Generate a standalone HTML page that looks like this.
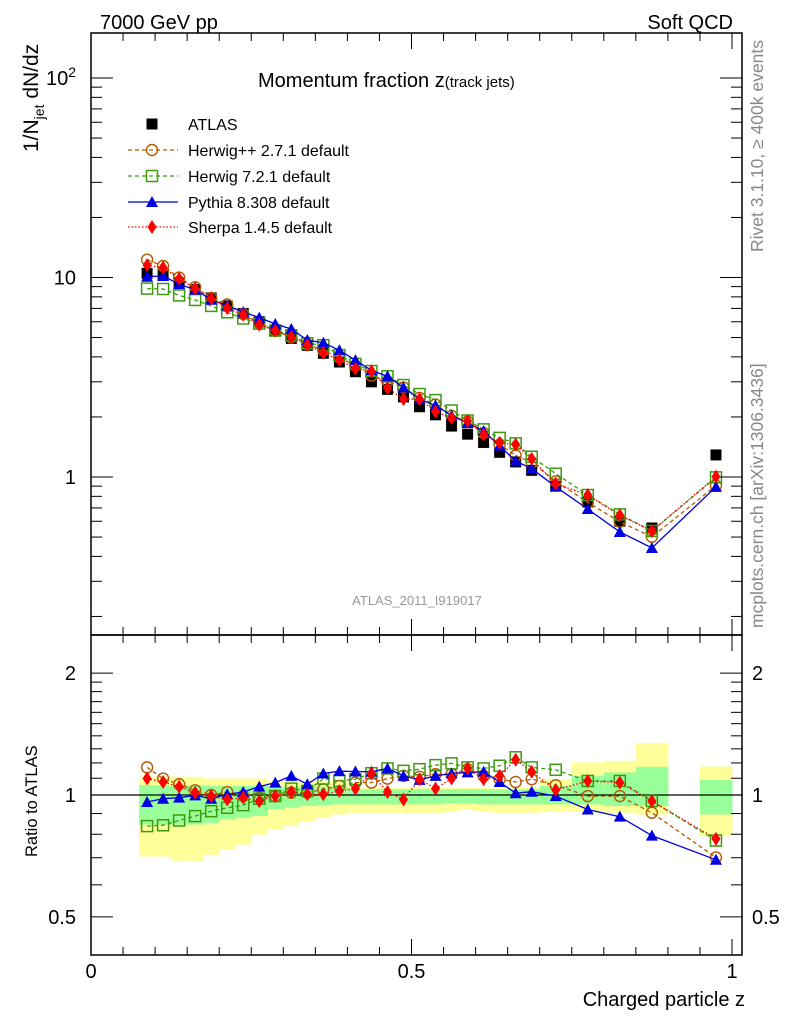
<!DOCTYPE html>
<html><head><meta charset="utf-8"><style>
body{margin:0;background:#fff;}
svg{display:block;font-family:"Liberation Sans",sans-serif;}
</style></head><body>
<svg id="chart" width="786" height="1024" viewBox="0 0 786 1024" xmlns="http://www.w3.org/2000/svg">
<g id="bands"></g>
<g id="series"></g>
<g id="axes"></g>
<text x="100" y="29" font-size="20">7000 GeV pp</text>
<text x="733" y="29" font-size="20" text-anchor="end">Soft QCD</text>
<text x="258" y="87" font-size="20">Momentum fraction <tspan>z</tspan><tspan font-size="15">(track jets)</tspan></text>
<text x="417" y="605" font-size="13" fill="#999" text-anchor="middle">ATLAS_2011_I919017</text>
<text transform="translate(38,152) rotate(-90)" font-size="21">1/N<tspan font-size="14" dy="6">jet</tspan><tspan dy="-6"> dN/dz</tspan></text>
<text transform="translate(37,857) rotate(-90)" font-size="16.5">Ratio to ATLAS</text>
<text x="745" y="1006" font-size="20" text-anchor="end">Charged particle z</text>
<text transform="translate(763,252) rotate(-90)" font-size="17.5" fill="#888">Rivet 3.1.10, ≥ 400k events</text>
<text transform="translate(763,628) rotate(-90)" font-size="17.5" fill="#888">mcplots.cern.ch [arXiv:1306.3436]</text>
<g id="legend"></g>
</svg>
<script>
const binLo=[0.075,0.1,0.125,0.15,0.175,0.2,0.225,0.25,0.275,0.3,0.325,0.35,0.375,0.4,0.425,0.45,0.475,0.5,0.525,0.55,0.575,0.6,0.625,0.65,0.675,0.7,0.75,0.8,0.85,0.95];
const binHi=[0.1,0.125,0.15,0.175,0.2,0.225,0.25,0.275,0.3,0.325,0.35,0.375,0.4,0.425,0.45,0.475,0.5,0.525,0.55,0.575,0.6,0.625,0.65,0.675,0.7,0.75,0.8,0.85,0.9,1.0];
const atlas=[10.5,10.4,9.4,8.7,7.9,7.2,6.6,6.0,5.45,4.95,4.57,4.17,3.77,3.37,3.0,2.75,2.52,2.25,2.05,1.8,1.64,1.49,1.33,1.19,1.08,0.9,0.75,0.6,0.555,1.29];
const rHerwigPP=[1.17,1.098,1.063,1.027,1.0,1.017,0.994,0.985,0.994,1.013,1.013,1.033,1.053,1.073,1.073,1.098,1.115,1.109,1.126,1.126,1.158,1.115,1.094,1.077,1.094,1.057,0.994,0.994,0.904,0.701];
const rHerwig7=[0.838,0.842,0.865,0.887,0.912,0.93,0.944,0.979,0.994,1.037,1.023,1.098,1.083,1.094,1.132,1.163,1.147,1.158,1.185,1.197,1.17,1.163,1.181,1.239,1.17,1.154,1.083,1.083,0.966,0.772];
const rPythia=[0.961,0.979,0.985,0.998,0.979,1.004,1.017,1.049,1.073,1.115,1.063,1.13,1.145,1.143,1.141,1.163,1.115,1.09,1.115,1.13,1.137,1.141,1.077,1.01,1.019,0.994,0.921,0.884,0.794,0.692];
const rSherpa=[1.098,1.077,1.049,1.013,0.994,0.975,0.985,0.966,0.994,1.017,1.004,1.004,1.023,1.037,1.13,1.017,0.975,1.094,1.037,1.098,1.163,1.094,1.115,1.222,1.141,1.029,1.083,1.073,0.966,0.779];
const yelHi=[1.109,1.109,1.109,1.109,1.098,1.098,1.098,1.098,1.083,1.083,1.083,1.083,1.083,1.043,1.043,1.043,1.043,1.043,1.043,1.043,1.043,1.043,1.043,1.043,1.043,1.094,1.203,1.215,1.345,1.176];
const yelLo=[0.705,0.705,0.688,0.688,0.712,0.733,0.754,0.798,0.822,0.838,0.862,0.878,0.895,0.904,0.904,0.904,0.904,0.904,0.904,0.912,0.921,0.912,0.904,0.904,0.904,0.912,0.912,0.904,0.895,0.794];
const grnHi=[1.057,1.057,1.057,1.057,1.053,1.053,1.053,1.053,1.049,1.049,1.049,1.049,1.049,1.033,1.033,1.033,1.033,1.033,1.033,1.033,1.033,1.033,1.033,1.033,1.033,1.053,1.115,1.137,1.174,1.090];
const grnLo=[0.845,0.845,0.845,0.845,0.853,0.870,0.878,0.887,0.921,0.930,0.939,0.944,0.948,0.948,0.948,0.948,0.948,0.948,0.948,0.953,0.953,0.948,0.948,0.948,0.948,0.948,0.948,0.939,0.939,0.895];
const mainTicks=["1","10","10²"];
const ratioTicks=["0.5","1","2"];
const xTickLabels=["0","0.5","1"];

const NS="http://www.w3.org/2000/svg";
const X0=91,X1=742,MT=33,MB=635,RB=955;
const xs=z=>X0+641*z;
const ym=v=>477-199.5*Math.log10(v);
const yr=v=>795-405*Math.log10(v);
function el(tag,attrs,parent){const e=document.createElementNS(NS,tag);for(const k in attrs)e.setAttribute(k,attrs[k]);parent.appendChild(e);return e;}
const bands=document.getElementById('bands'),series=document.getElementById('series'),axes=document.getElementById('axes'),legend=document.getElementById('legend');

for(let i=0;i<binLo.length;i++){
  const a=el('rect',{x:xs(binLo[i]),y:yr(yelHi[i]),width:xs(binHi[i])-xs(binLo[i])+0.5,height:yr(yelLo[i])-yr(yelHi[i]),fill:'#ffff99'},bands);
  
  
}
for(let i=0;i<binLo.length;i++){
  const a=el('rect',{x:xs(binLo[i]),y:yr(grnHi[i]),width:xs(binHi[i])-xs(binLo[i])+0.5,height:yr(grnLo[i])-yr(grnHi[i]),fill:'#99ff99'},bands);
  
  
}
const unity=el('line',{x1:X0,x2:X1,y1:yr(1),y2:yr(1),stroke:'#000','stroke-width':1.2},bands);



function marker(kind,cx,cy,color,g){
  let m;
  if(kind==='circle')m=el('circle',{cx:cx,cy:cy,r:5.5,fill:'none',stroke:color,'stroke-width':1.4},g);
  else if(kind==='osquare')m=el('rect',{x:cx-5.5,y:cy-5.5,width:11,height:11,fill:'none',stroke:color,'stroke-width':1.5},g);
  else if(kind==='square')m=el('rect',{x:cx-5.5,y:cy-5.5,width:11,height:11,fill:color},g);
  else if(kind==='tri')m=el('polygon',{points:`${cx},${cy-6} ${cx-6},${cy+5} ${cx+6},${cy+5}`,fill:color},g);
  else m=el('polygon',{points:`${cx},${cy-7} ${cx-4.5},${cy} ${cx},${cy+7} ${cx+4.5},${cy}`,fill:color},g);
  return m;
}
const mc=[
 {name:'herwigpp',label:'Herwig++ 2.7.1 default',r:rHerwigPP,color:'#b35a00',kind:'circle',dash:'4,3'},
 {name:'herwig7',label:'Herwig 7.2.1 default',r:rHerwig7,color:'#3c9a0e',kind:'osquare',dash:'4,3'},
 {name:'pythia',label:'Pythia 8.308 default',r:rPythia,color:'#0000e0',kind:'tri',dash:''},
 {name:'sherpa',label:'Sherpa 1.4.5 default',r:rSherpa,color:'#ff0000',kind:'diamond',dash:'1.5,2'}
];
const mid=i=>(binLo[i]+binHi[i])/2;
for(let i=0;i<atlas.length;i++){
  const m=marker('square',xs(mid(i)),ym(atlas[i]),'#000',series);
  
  
}
mc.forEach(s=>{
  const g=el('g',{},series);
  
  
  const pm=s.r.map((r,i)=>`${xs(mid(i)).toFixed(1)},${ym(r*atlas[i]).toFixed(1)}`).join(' ');
  const pr=s.r.map((r,i)=>`${xs(mid(i)).toFixed(1)},${yr(r).toFixed(1)}`).join(' ');
  const l1=el('polyline',{points:pm,fill:'none',stroke:s.color,'stroke-width':1.3,'stroke-dasharray':s.dash},g);
  
  
  const l2=el('polyline',{points:pr,fill:'none',stroke:s.color,'stroke-width':1.3,'stroke-dasharray':s.dash},g);
  
  
  s.r.forEach((r,i)=>{
    const a=marker(s.kind,xs(mid(i)),ym(r*atlas[i]),s.color,g);
    
    
    const b=marker(s.kind,xs(mid(i)),yr(r),s.color,g);
    
    
  });
});

[[MT,MB],[MB,RB]].forEach(([t,b],k)=>{
  const f=el('rect',{x:X0,y:t,width:X1-X0,height:b-t,fill:'none',stroke:'#000','stroke-width':1.5},axes);
  
  
});
for(let k=0;k<=20;k++){
  const z=k*0.05,x=xs(z),len=(k%10===0)?16:8;
  [[MT,1],[RB,-1],[MB,-1],[MB,1]].forEach(([y,d])=>{
    const t=el('line',{x1:x,x2:x,y1:y,y2:y+d*len,stroke:'#000','stroke-width':1},axes);
    
    
  });
}
xTickLabels.forEach((s,k)=>{
  const t=el('text',{x:xs(k*0.5),y:978,'font-size':20,'text-anchor':'middle'},axes);
  t.textContent=s;
  
  
});
for(let d=-1;d<=2;d++){
  for(let m=1;m<=9;m++){
    const v=m*Math.pow(10,d),y=ym(v);
    if(y<MT||y>MB)continue;
    const len=m===1?22:11;
    [[X0,1],[X1,-1]].forEach(([x,s])=>{
      const t=el('line',{x1:x,x2:x+s*len,y1:y,y2:y,stroke:'#000','stroke-width':1},axes);
      
      
    });
  }
}
mainTicks.forEach((s,k)=>{
  const t=el('text',{x:76,y:ym(Math.pow(10,k))+7,'font-size':20,'text-anchor':'end'},axes);
  if(k===2){t.textContent='10';const sp=el('tspan',{dy:-8,'font-size':14},t);sp.textContent='2';}
  else t.textContent=s;
  
  
});
const rt=[0.5,0.6,0.7,0.8,0.9,1,1.1,1.2,1.3,1.4,1.5,1.6,1.7,1.8,1.9,2];
rt.forEach(v=>{
  const y=yr(v),len=(v===0.5||v===1||v===2)?22:11;
  [[X0,1],[X1,-1]].forEach(([x,s])=>{
    const t=el('line',{x1:x,x2:x+s*len,y1:y,y2:y,stroke:'#000','stroke-width':1},axes);
    
    
  });
});
ratioTicks.forEach(s=>{
  const v=parseFloat(s);
  const a=el('text',{x:76,y:yr(v)+7,'font-size':20,'text-anchor':'end'},axes);
  a.textContent=s;
  
  
  const b=el('text',{x:752,y:yr(v)+7,'font-size':20},axes);
  b.textContent=s;
  
  
});
const ly=[124,150,176,202,227];
const la=marker('square',152,ly[0],'#000',legend);


const lt=el('text',{x:188,y:ly[0]+6,'font-size':16},legend);
lt.textContent='ATLAS';


mc.forEach((s,k)=>{
  const y=ly[k+1];
  const l=el('line',{x1:128,x2:178,y1:y,y2:y,stroke:s.color,'stroke-width':1.3,'stroke-dasharray':s.dash},legend);
  
  
  const m=marker(s.kind,152,y,s.color,legend);
  
  
  const t=el('text',{x:188,y:y+6,'font-size':16},legend);
  t.textContent=s.label;
  
  
});
</script>
</body></html>
